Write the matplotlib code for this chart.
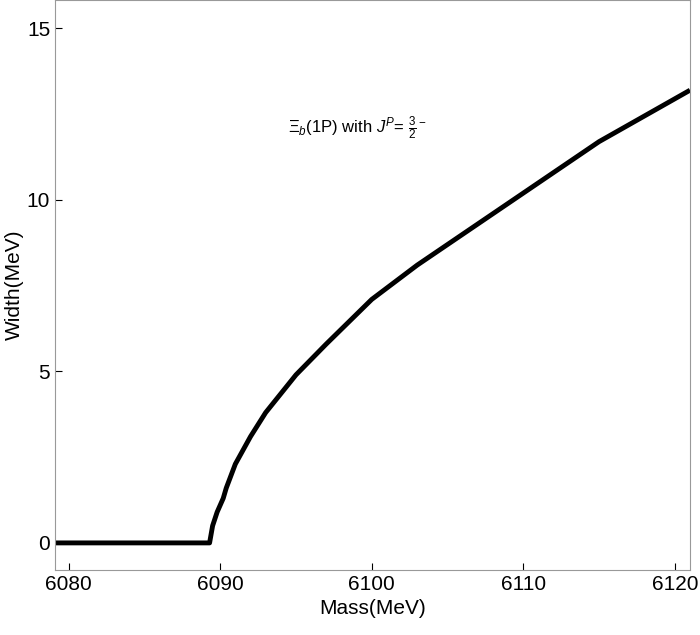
import matplotlib
matplotlib.use("Agg")
import matplotlib.pyplot as plt

plt.rcParams['font.family'] = 'Liberation Sans'
plt.rcParams['mathtext.fontset'] = 'custom'
plt.rcParams['mathtext.rm'] = 'Liberation Sans'
plt.rcParams['mathtext.it'] = 'Liberation Sans:italic'

mass = [6079.1, 6089.3, 6089.5, 6089.8, 6090.2, 6090.4, 6091, 6092, 6093, 6095, 6097,
        6100, 6103, 6105, 6110, 6115, 6121]
width = [0, 0, 0.5, 0.9, 1.3, 1.6, 2.3, 3.1, 3.8, 4.9, 5.8,
         7.1, 8.1, 8.7, 10.2, 11.7, 13.2]
xticks = [6080, 6090, 6100, 6110, 6120]
yticks = [0, 5, 10, 15]

fig = plt.figure(figsize=(7, 6.35), dpi=100)
ax = fig.add_axes([55/700, 65/635, 635/700, 570/635])
ax.plot(mass, width, color='black', lw=3.5, solid_capstyle='butt')
ax.set_xlim(6079.1, 6121)
ax.set_ylim(-0.79, 15.83)
ax.set_xticks(xticks)
ax.set_yticks(yticks)
ax.tick_params(labelsize=15, direction='in', length=5)
for s in ax.spines.values():
    s.set_color('#999999')
ax.set_xlabel('Mass(MeV)', fontsize=15)
ax.set_ylabel('Width(MeV)', fontsize=15, labelpad=2)
ax.text(6094.5, 12.1, r'$\Xi_b$(1P) with $J^P$= $\frac{3}{2}^-$', fontsize=12, va='center')
fig.savefig('out.png', dpi=100)
